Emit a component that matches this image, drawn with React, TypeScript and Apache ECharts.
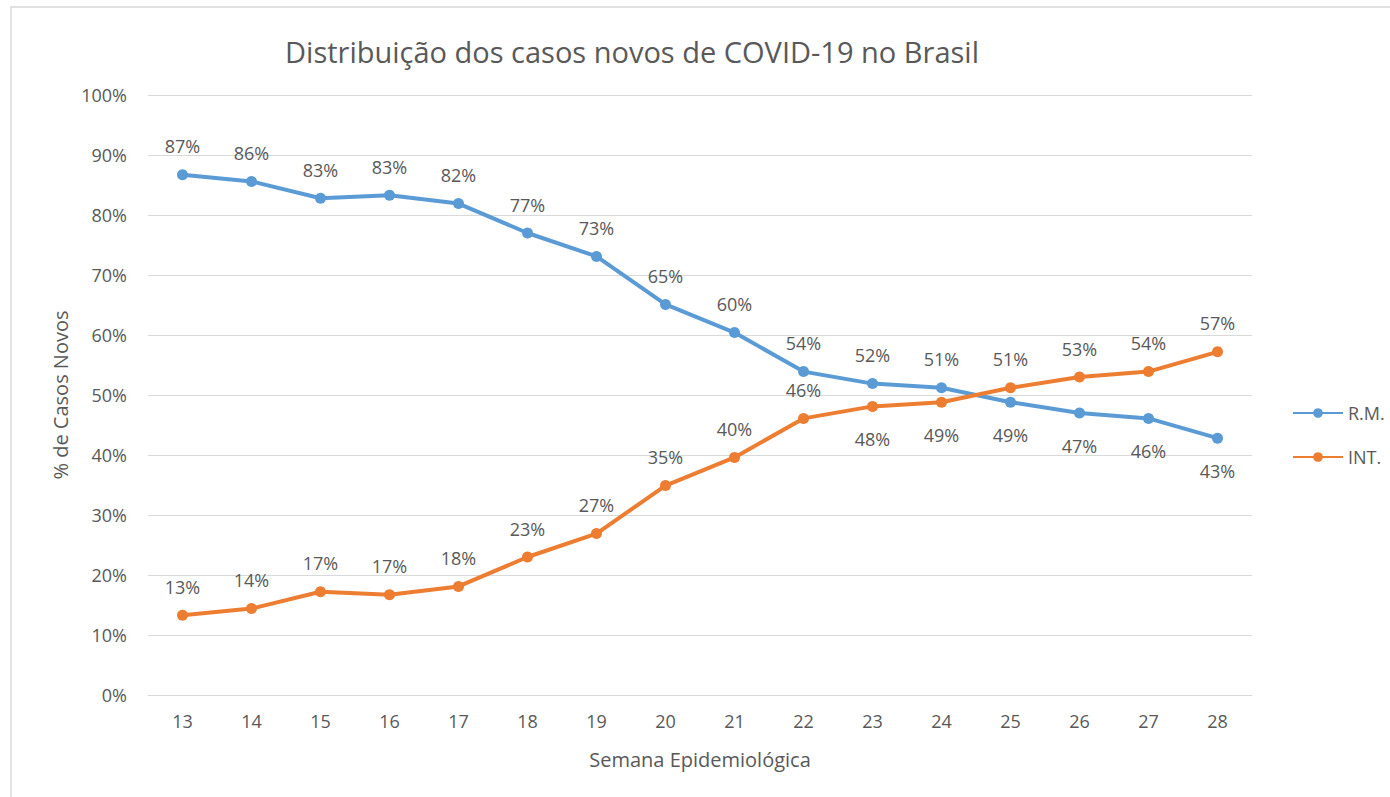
import React, { useEffect, useRef } from "react";
import * as echarts from "echarts";

const weeks = ["13", "14", "15", "16", "17", "18", "19", "20", "21", "22", "23", "24", "25", "26", "27", "28"];
const rmValues = [86.7, 85.6, 82.8, 83.3, 81.9, 77.0, 73.1, 65.1, 60.4, 53.9, 51.9, 51.2, 48.8, 47.0, 46.1, 42.8];
const intValues = [13.3, 14.4, 17.2, 16.7, 18.1, 23.0, 26.9, 34.9, 39.6, 46.1, 48.1, 48.8, 51.2, 53.0, 53.9, 57.2];
// label placement per point (above / below the marker)
const rmLabelPos = ["top", "top", "top", "top", "top", "top", "top", "top", "top", "top", "top", "top", "bottom", "bottom", "bottom", "bottom"];
const intLabelPos = ["top", "top", "top", "top", "top", "top", "top", "top", "top", "top", "bottom", "bottom", "top", "top", "top", "top"];

const FONT = "'Open Sans', 'Noto Sans', sans-serif";
const TEXT = "#595959";

function buildData(values: number[], pos: string[]) {
  return values.map((v, i) => ({
    value: v,
    label: {
      position: pos[i],
      distance: pos[i] === "top" ? 14 : 18,
    },
  }));
}

export default function App() {
  const ref = useRef<HTMLDivElement>(null);
  useEffect(() => {
    if (!ref.current) return;
    const chart = echarts.init(ref.current, null, { renderer: "svg" });
    const labelCommon = {
      show: true,
      color: TEXT,
      fontFamily: FONT,
      fontSize: 18,
      formatter: (p: any) => Math.round(p.value) + "%",
    };
    chart.setOption({
      animation: false,
      backgroundColor: "#ffffff",
      textStyle: { fontFamily: FONT },
      graphic: [
        {
          type: "rect",
          shape: { x: 11, y: 7, width: 1500, height: 900 },
          style: { fill: "none", stroke: "#d9d9d9", lineWidth: 1.5 },
          silent: true,
          z: -1,
        },
      ],
      title: {
        text: "Distribuição dos casos novos de COVID-19 no Brasil",
        left: 627,
        top: 32,
        textAlign: "center",
        textStyle: { color: TEXT, fontFamily: FONT, fontSize: 29, fontWeight: "normal" },
      },
      legend: {
        orient: "vertical",
        left: 1287,
        top: 399,
        itemGap: 26,
        itemWidth: 50,
        itemHeight: 12,
        textStyle: { color: TEXT, fontFamily: FONT, fontSize: 18 },
        data: ["R.M.", "INT."],
      },
      grid: { left: 148, right: 138, top: 95, bottom: 102, containLabel: false },
      xAxis: {
        type: "category",
        data: weeks,
        boundaryGap: true,
        axisLine: { show: true, lineStyle: { color: "#d9d9d9", width: 1 } },
        axisTick: { show: false },
        axisLabel: { color: TEXT, fontFamily: FONT, fontSize: 18, margin: 17 },
        name: "Semana Epidemiológica",
        nameLocation: "middle",
        nameGap: 54,
        nameTextStyle: { color: TEXT, fontFamily: FONT, fontSize: 20 },
      },
      yAxis: {
        type: "value",
        min: 0,
        max: 100,
        interval: 10,
        axisLine: { show: false },
        axisTick: { show: false },
        splitLine: { lineStyle: { color: "#d9d9d9", width: 1 } },
        axisLabel: { color: TEXT, fontFamily: FONT, fontSize: 18, margin: 21, formatter: "{value}%" },
        name: "% de Casos Novos",
        nameLocation: "middle",
        nameGap: 78,
        nameRotate: 90,
        nameTextStyle: { color: TEXT, fontFamily: FONT, fontSize: 20 },
      },
      series: [
        {
          name: "R.M.",
          type: "line",
          data: buildData(rmValues, rmLabelPos),
          symbol: "circle",
          symbolSize: 11,
          lineStyle: { color: "#5B9BD5", width: 4 },
          itemStyle: { color: "#5B9BD5" },
          label: labelCommon,
        },
        {
          name: "INT.",
          type: "line",
          data: buildData(intValues, intLabelPos),
          symbol: "circle",
          symbolSize: 11,
          lineStyle: { color: "#ED7D31", width: 4 },
          itemStyle: { color: "#ED7D31" },
          label: labelCommon,
        },
      ],
    });
    return () => chart.dispose();
  }, []);
  return (
    <div
      ref={ref}
      style={{ position: "absolute", left: 0, top: 0, width: 1390, height: 797 }}
    />
  );
}
